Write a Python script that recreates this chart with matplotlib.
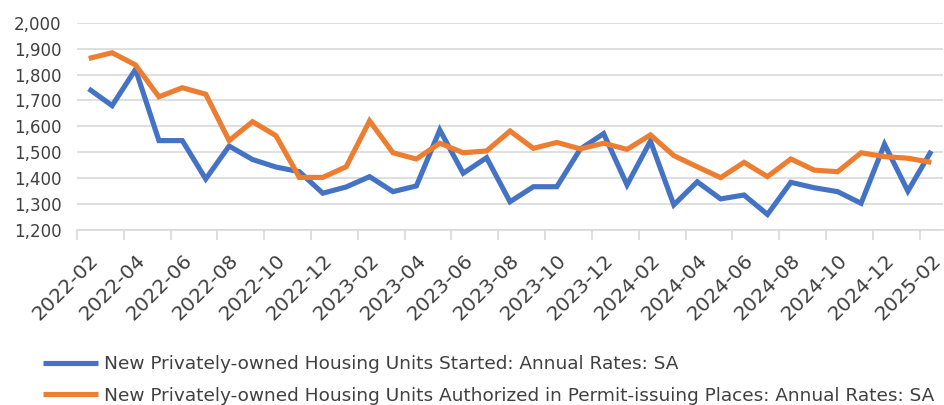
import matplotlib
matplotlib.use("Agg")
import matplotlib.pyplot as plt
from matplotlib.ticker import FuncFormatter, FixedLocator

months = [
    "2022-02", "2022-03", "2022-04", "2022-05", "2022-06", "2022-07", "2022-08", "2022-09",
    "2022-10", "2022-11", "2022-12", "2023-01", "2023-02", "2023-03", "2023-04", "2023-05",
    "2023-06", "2023-07", "2023-08", "2023-09", "2023-10", "2023-11", "2023-12", "2024-01",
    "2024-02", "2024-03", "2024-04", "2024-05", "2024-06", "2024-07", "2024-08", "2024-09",
    "2024-10", "2024-11", "2024-12", "2025-01", "2025-02",
]

starts = [
    1745, 1680, 1820, 1545, 1545, 1397, 1524, 1472, 1443, 1425, 1342, 1366, 1406,
    1348, 1370, 1586, 1419, 1479, 1309, 1367, 1367, 1512, 1572, 1374, 1543, 1297,
    1386, 1320, 1335, 1260, 1384, 1363, 1348, 1303, 1531, 1350, 1505,
]

permits = [
    1862, 1884, 1837, 1714, 1749, 1724, 1545, 1618, 1564, 1403, 1403, 1444, 1621,
    1498, 1474, 1535, 1498, 1505, 1582, 1515, 1538, 1513, 1535, 1511, 1567, 1487,
    1444, 1402, 1461, 1406, 1474, 1431, 1425, 1498, 1483, 1477, 1461,
]

series_names = [
    "New Privately-owned Housing Units Started: Annual Rates: SA",
    "New Privately-owned Housing Units Authorized in Permit-issuing Places: Annual Rates: SA",
]

y_ticks = [1200, 1300, 1400, 1500, 1600, 1700, 1800, 1900, 2000]

BLUE = "#4472C4"
ORANGE = "#ED7D31"
GRID = "#D9D9D9"
TXT = "#404040"

fig = plt.figure(figsize=(9.44, 4.05), dpi=100)
ax = fig.add_axes([77 / 944, 1 - 230 / 405, (943 - 77) / 944, (230 - 22.7) / 405])

x = list(range(len(months)))
l1, = ax.plot(x, starts, color=BLUE, lw=3.7, solid_joinstyle="miter", solid_capstyle="butt", zorder=3)
l2, = ax.plot(x, permits, color=ORANGE, lw=3.7, solid_joinstyle="miter", solid_capstyle="butt", zorder=3)

ax.set_xlim(-0.5, len(months) - 0.5)
ax.set_ylim(1200, 2000)
ax.set_yticks(y_ticks)
ax.yaxis.set_major_formatter(FuncFormatter(lambda v, p: f"{int(v):,}"))
ax.grid(axis="y", color=GRID, lw=1.2)
ax.set_axisbelow(True)

for s in ["top", "right", "left"]:
    ax.spines[s].set_visible(False)
ax.spines["bottom"].set_color(GRID)
ax.spines["bottom"].set_linewidth(1.2)
ax.spines["bottom"].set_zorder(1)

ax.tick_params(axis="y", length=0, pad=11, labelsize=12, labelcolor=TXT)

label_pos = x[::2]
ax.set_xticks(label_pos)
ax.set_xticklabels([months[i] for i in label_pos], rotation=45, ha="right",
                   rotation_mode="anchor", fontsize=14.5, color=TXT)
ax.tick_params(axis="x", which="major", length=0, pad=15)
ax.xaxis.set_minor_locator(FixedLocator([i - 0.5 for i in range(0, len(months) + 1, 2)]))
ax.tick_params(axis="x", which="minor", length=7, width=1.2, color=GRID)

fig.legend([l1, l2], series_names, loc="upper left", bbox_to_anchor=(43 / 944, 1 - 355 / 405),
           frameon=False, fontsize=13.3, handlelength=3.0, handletextpad=0.3,
           labelspacing=0.75, borderpad=0, borderaxespad=0, labelcolor=TXT)

fig.savefig("out.png", dpi=100)
